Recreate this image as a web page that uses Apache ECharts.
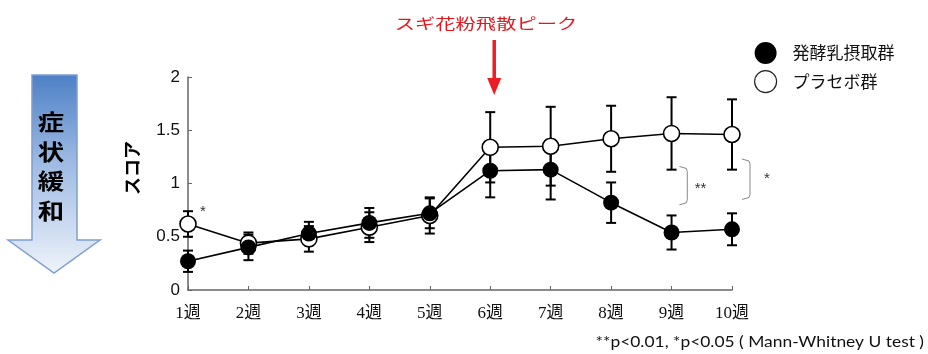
<!DOCTYPE html>
<html>
<head>
<meta charset="utf-8">
<script src="https://cdn.jsdelivr.net/npm/echarts@6/dist/echarts.min.js"></script>
<style>
  html, body { margin: 0; padding: 0; background: #fff; }
  #chart { width: 928px; height: 354px; }
</style>
</head>
<body>
<div id="chart"></div>
<script>
// Weekly symptom score: fermented-milk group vs placebo group (mean ± SD)
const weeks = ['1週', '2週', '3週', '4週', '5週', '6週', '7週', '8週', '9週', '10週'];
const yTicks = [0, 0.5, 1, 1.5, 2];

const fermentedName = '発酵乳摂取群';
const fermented    = [0.27, 0.40, 0.53, 0.63, 0.72, 1.12, 1.13, 0.82, 0.54, 0.57];
const fermentedErr = [0.10, 0.12, 0.11, 0.14, 0.14, 0.25, 0.28, 0.19, 0.16, 0.15];

const placeboName = 'プラセボ群';
const placebo    = [0.62, 0.44, 0.48, 0.59, 0.70, 1.34, 1.35, 1.42, 1.47, 1.46];
const placeboErr = [0.12, 0.10, 0.12, 0.14, 0.17, 0.33, 0.37, 0.31, 0.34, 0.33];

const peakWeek = '6週';
const peakLabel = 'スギ花粉飛散ピーク';
const footnote = '**p<0.01, *p<0.05 ( Mann-Whitney U test )';

const CJK = '"Noto Sans CJK JP", "Noto Sans", sans-serif';

const chart = echarts.init(document.getElementById('chart'), null, { renderer: 'canvas' });

function errorSeries(name, means, errs) {
  return {
    type: 'custom',
    name: name + '-err',
    z: 1,
    silent: true,
    data: means.map((m, i) => [i, m - errs[i], m + errs[i]]),
    renderItem: function (params, api) {
      const lo = api.coord([api.value(0), api.value(1)]);
      const hi = api.coord([api.value(0), api.value(2)]);
      const w = 5;
      const st = { stroke: '#000', lineWidth: 2 };
      return {
        type: 'group',
        children: [
          { type: 'line', shape: { x1: hi[0], y1: hi[1], x2: lo[0], y2: lo[1] }, style: st },
          { type: 'line', shape: { x1: hi[0] - w, y1: hi[1], x2: hi[0] + w, y2: hi[1] }, style: st },
          { type: 'line', shape: { x1: lo[0] - w, y1: lo[1], x2: lo[0] + w, y2: lo[1] }, style: st }
        ]
      };
    }
  };
}

const option = {
  backgroundColor: '#fff',
  animation: false,
  grid: { left: 188, right: 196, top: 77, bottom: 64 },
  legend: {
    orient: 'vertical',
    left: 749,
    top: 37,
    itemWidth: 24,
    itemHeight: 22,
    itemGap: 6,
    selectedMode: false,
    textStyle: { fontFamily: CJK, fontSize: 17, color: '#111', padding: [0, 0, 0, 10] },
    data: [
      { name: fermentedName, icon: 'circle', itemStyle: { color: '#000', borderWidth: 0 } },
      { name: placeboName, icon: 'circle', itemStyle: { color: '#fff', borderColor: '#222', borderWidth: 1.2 } }
    ]
  },
  xAxis: {
    type: 'category',
    data: weeks,
    boundaryGap: false,
    axisLine: { lineStyle: { color: '#666', width: 1.5 } },
    axisTick: { inside: true, length: 4, alignWithLabel: true, lineStyle: { color: '#666' } },
    axisLabel: {
      margin: 15,
      color: '#111',
      fontSize: 17,
      fontFamily: '"Liberation Serif", "Noto Sans CJK JP", serif'
    },
    splitLine: { show: false }
  },
  yAxis: {
    type: 'value',
    min: yTicks[0],
    max: yTicks[yTicks.length - 1],
    interval: 0.5,
    axisLine: { show: true, lineStyle: { color: '#666', width: 1.5 } },
    axisTick: { show: true, inside: true, length: 4, lineStyle: { color: '#666' } },
    axisLabel: {
      margin: 8,
      color: '#111',
      fontSize: 17,
      fontFamily: '"Liberation Sans", Arial, sans-serif',
      formatter: v => String(v)
    },
    splitLine: { show: false }
  },
  series: [
    errorSeries(placeboName, placebo, placeboErr),
    errorSeries(fermentedName, fermented, fermentedErr),
    {
      type: 'line',
      name: placeboName,
      z: 3,
      data: placebo,
      symbol: 'circle',
      symbolSize: 16,
      lineStyle: { color: '#000', width: 1.6 },
      itemStyle: { color: '#fff', borderColor: '#000', borderWidth: 1.6 }
    },
    {
      type: 'line',
      name: fermentedName,
      z: 4,
      data: fermented,
      symbol: 'circle',
      symbolSize: 16,
      lineStyle: { color: '#000', width: 1.6 },
      itemStyle: { color: '#000', borderColor: '#000', borderWidth: 0 }
    }
  ]
};

chart.setOption(option);

// Annotations placed from the axes' own scale
function px(idx, val) { return chart.convertToPixel({ gridIndex: 0 }, [idx, val]); }
const i9 = weeks.indexOf('9週');
const i10 = weeks.indexOf('10週');
const p9 = px(i9, 0), p10 = px(i10, 0);
const step = p10[0] - p9[0];
const yv = v => px(0, v)[1];
const peak = px(weeks.indexOf(peakWeek), 0)[0];
const firstPt = px(0, placebo[0] + placeboErr[0]);

function bracket(xEnd, xBar, v1, v2) {
  const y1 = yv(v1), y2 = yv(v2);
  return {
    type: 'polyline',
    shape: { points: [[xEnd, y1], [xBar - 1, y1 + 2], [xBar, y1 + 5], [xBar, y2 - 5], [xBar - 1, y2 - 2], [xEnd, y2]] },
    style: { stroke: '#888', lineWidth: 1, fill: null }
  };
}

const markStyle = { fontFamily: '"Liberation Sans", sans-serif', fontSize: 15, fill: '#333', align: 'center', verticalAlign: 'middle' };

const gradient = new echarts.graphic.LinearGradient(0, 0, 0, 1, [
  { offset: 0, color: '#4d80c6' },
  { offset: 0.45, color: '#9fbbe3' },
  { offset: 1, color: '#eef3fa' }
]);

chart.setOption({
  graphic: [
    // big "symptom relief" arrow on the left
    {
      type: 'polygon',
      shape: { points: [[32, 75], [77, 75], [77, 240], [100, 240], [54, 273], [8, 240], [32, 240]] },
      style: { fill: gradient, stroke: '#7f9fcf', lineWidth: 1.5 }
    },
    ...['症', '状', '緩', '和'].map((ch, k) => ({
      type: 'text',
      x: 51, y: 122 + k * 29.5,
      scaleX: 1.2,
      style: { text: ch, fontFamily: CJK, fontSize: 22, fontWeight: 'bold', fill: '#000', align: 'center', verticalAlign: 'middle' }
    })),
    // y-axis title
    {
      type: 'text',
      x: 132, y: 168,
      rotation: Math.PI / 2,
      style: { text: 'スコア', fontFamily: CJK, fontSize: 18, fontWeight: 'bold', fill: '#000', align: 'center', verticalAlign: 'middle' }
    },
    // pollen peak marker
    {
      type: 'text',
      x: 486, y: 23,
      scaleX: 1.35,
      style: { text: peakLabel, fontFamily: CJK, fontSize: 15, fill: '#e8141c', align: 'center', verticalAlign: 'middle' }
    },
    {
      type: 'line',
      shape: { x1: peak + 4, y1: 40, x2: peak + 4, y2: 84 },
      style: { stroke: '#ee1c24', lineWidth: 3.5 }
    },
    {
      type: 'polygon',
      shape: { points: [[peak - 3, 78], [peak + 11, 78], [peak + 4, 95]] },
      style: { fill: '#ee1c24' }
    },
    // significance marks
    Object.assign({ type: 'text', x: firstPt[0] + 15, y: firstPt[1] + 1 }, { style: Object.assign({ text: '*' }, markStyle) }),
    bracket(p9[0] + step * 0.13, p9[0] + step * 0.26, 1.16, 0.80),
    Object.assign({ type: 'text', x: p9[0] + step * 0.48, y: yv(0.96) + 1 }, { style: Object.assign({ text: '**' }, markStyle) }),
    bracket(p10[0] + 10, p10[0] + 18, 1.23, 0.85),
    Object.assign({ type: 'text', x: p10[0] + 35, y: yv(1.05) + 1 }, { style: Object.assign({ text: '*' }, markStyle) }),
    // footnote
    {
      type: 'text',
      x: 924, y: 342,
      scaleX: 1.16,
      style: { text: footnote, fontFamily: 'Lato, "Open Sans", sans-serif', fontSize: 15, fill: '#111', align: 'right', verticalAlign: 'middle' }
    }
  ]
});
</script>
</body>
</html>
